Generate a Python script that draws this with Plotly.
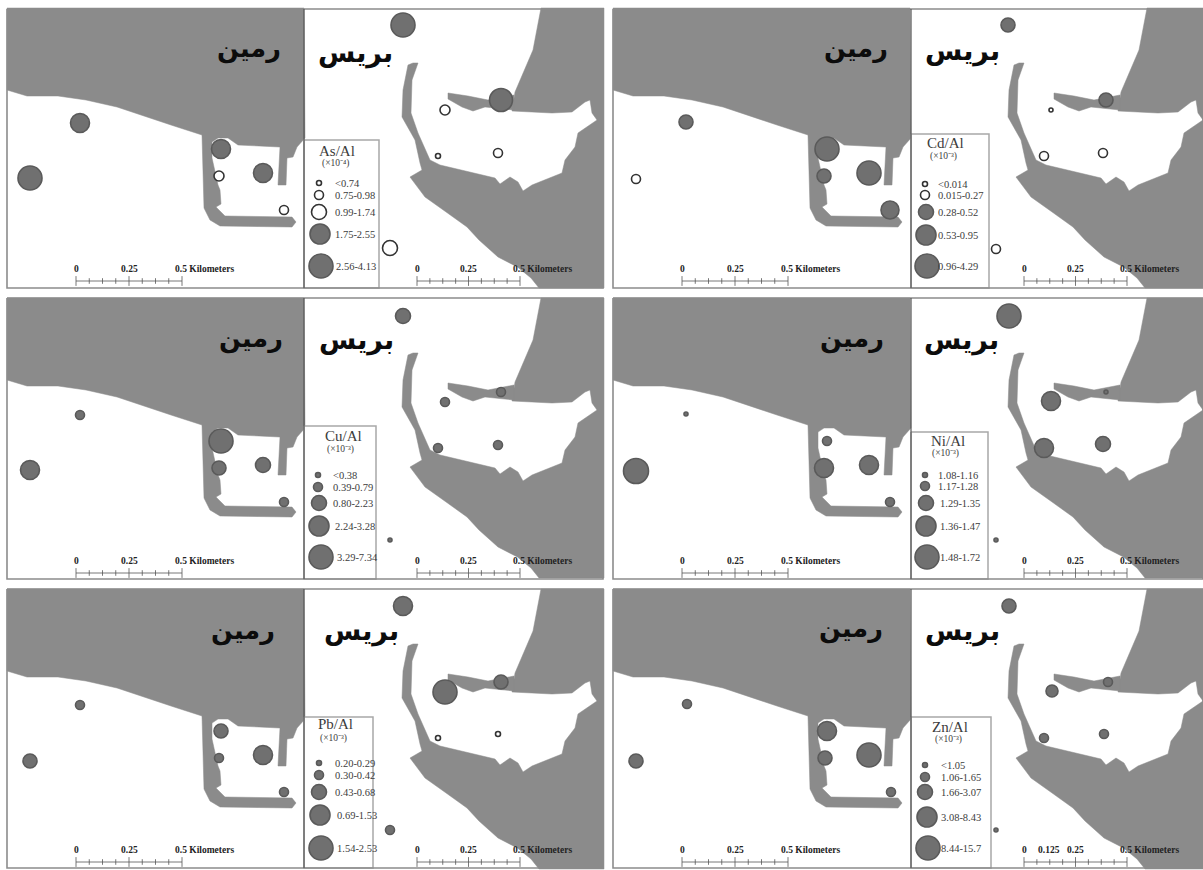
import plotly.graph_objects as go

LAND = "#8b8b8b"
MARK = "#707070"
EDGE = "#5a5a5a"
TXT = "#3c3c3c"

# Outline of the land, in reference-panel units (first panel)
north_x = [7,304,305,297,293,287,286,278,280,238,228,218,212,212,218,220,221,216,225,292,296,292,220,210,204,203,202,171,148,117,86,58,27,7]
north_y = [8,8,138,147,157,158,185,185,147,145,138,138,142,158,185,190,204,207,216,217,222,227,226,220,208,150,135,125,117,107,100,96,96,90]
east_x = [410,425,447.5,467,479,498,517.5,531,539,604,604,541,533,515,512,552,572,585,590,592,597,578,575,565,562,532,523,518,510,500,495,462,440,430,418,411,412,418,413,408,403,402,415,420,422]
east_y = [177,197,213,227,240,257,267,278,288,288,8,8,50,92,111,113,112,102,100,113,120,133,147,160,173,185,191,182,177,184,178,170,165,160,133,113,80,63,63,65,90,117,140,163,170]
spit_x = [448,468,488,514,514,485,473,462,448]
spit_y = [93,96,100,95,110,107,111,107,99]

panel_dx = [0,606,0,606,0,606]
panel_dy = [0,0,290,290,581,581]

# Panel rectangles
frame_x0 = [7,613,7,613,7,613]
frame_x1 = [603,1203,603,1203,603,1203]
frame_y0 = [9,9,298,298,589,589]
frame_y1 = [288,288,579,579,868,868]
divider_x = [304,911,304,911,304,911]

# Stations
st_x = [
 [80,30,221,219,263,284,403,501,445,438,498,390],
 [686,636,827,824,869,890,1008,1106,1051,1044,1103,996],
 [80,30,221,219,263,284,403,501,445,438,498,390],
 [686,636,827,824,869,890,1009,1106,1051,1044,1103,996],
 [80,30,221,219,263,284,403,501,445,438,498,390],
 [687,636,827,825,869,891,1009,1108,1052,1044,1104,996],
]
st_y = [
 [123,178,149,176,173,210,25,100,110,156,153,248],
 [122,179,149,176,173,210,25,100,110,156,153,249],
 [415,470,441,468,465,502,316,392,402,448,445,540],
 [414,471,441,468,465,502,316,392,401,448,444,540],
 [705,761,731,758,755,792,606,682,692,738,734,830],
 [704,761,731,758,755,792,606,682,691,738,734,830],
]
st_d = [
 [19,24,19,10,19,9,24,23,10,5,9,15],
 [14,9,24,14,24,18,14,14,4,9,9,9],
 [9,19,24,14,15,9,15,9,9,9,9,4],
 [4,25,9,19,19,9,24,4,19,19,15,4],
 [9,14,14,9,19,9,19,14,24,5,5,9],
 [9,14,19,14,24,9,14,9,12,9,9,4],
]
st_open = [
 [0,0,0,1,0,1,0,0,1,1,1,1],
 [0,1,0,0,0,0,0,0,1,1,1,1],
 [0]*12, [0]*12, [0,0,0,0,0,0,0,0,0,1,1,0], [0]*12,
]

# Legends
metal = ["As/Al","Cd/Al","Cu/Al","Ni/Al","Pb/Al","Zn/Al"]
unit = ["(×10⁻⁴)","(×10⁻³)","(×10⁻³)","(×10⁻³)","(×10⁻³)","(×10⁻³)"]
title_x = [337,945,343,948,335,950]
title_y = [151,143,436,441,724,727]
unit_x = [336,943,340,945,333,948]
unit_y = [163,156,449,453,738,739]
box_x0 = [304,911,304,911,304,911]
box_x1 = [379,989,376,988,373,991]
box_y0 = [140,134,426,432,717,717]
box_y1 = [288,288,579,579,868,868]
leg_labels = [
 ["<0.74","0.75-0.98","0.99-1.74","1.75-2.55","2.56-4.13"],
 ["<0.014","0.015-0.27","0.28-0.52","0.53-0.95","0.96-4.29"],
 ["<0.38","0.39-0.79","0.80-2.23","2.24-3.28","3.29-7.34"],
 ["1.08-1.16","1.17-1.28","1.29-1.35","1.36-1.47","1.48-1.72"],
 ["0.20-0.29","0.30-0.42","0.43-0.68","0.69-1.53","1.54-2.53"],
 ["<1.05","1.06-1.65","1.66-3.07","3.08-8.43","8.44-15.7"],
]
leg_x = [
 [319,319,319,320,321],[925,925,926,926,927],[318,318,319,319,321],
 [925,925,926,926,927],[319,319,319,320,321],[925,925,925,927,928],
]
leg_y = [
 [183,195,212,234,266],[184,195,212,235,266],[475,487,503,526,557],
 [475,486,503,526,557],[763,775,792,815,848],[765,777,792,817,848],
]
leg_d = [5,9,15,20,24]
leg_open = [[1,1,1,0,0],[1,1,0,0,0],[0]*5,[0]*5,[0]*5,[0]*5]
leg_text_x = [
 [335,335,335,335,336],[938,938,938,938,938],[333,333,333,335,337],
 [938,938,940,940,940],[335,335,335,337,337],[941,941,941,941,941],
]

# Scale bars
bar_left = [76,682,76,682,76,682]
bar_right = [417,1024,417,1024,417,1024]
bar_y = [281,281,573,573,862,862]
scale_labels = ["0","0.25","0.5 Kilometers"]

# Place names
land_name = "رمین"
sea_name = "بریس"
land_name_x = [249,856,251,852,243,851]
land_name_y = [48,48,338,338,630,628]
sea_name_x = [355,962,356,961,361,962]
sea_name_y = [53,51,340,340,631,631]

fig = go.Figure()

def poly(x, y, dx, dy, fill, line=None, width=0):
    fig.add_trace(go.Scatter(
        x=[v + dx for v in x] + [x[0] + dx], y=[v + dy for v in y] + [y[0] + dy],
        mode="lines", fill="toself", fillcolor=fill,
        line=dict(color=line or fill, width=width or 0.5),
        hoverinfo="skip", showlegend=False))

def label(x, y, text, size, color=TXT, family="Liberation Serif", anchor="left", bold=False):
    t = f"<b>{text}</b>" if bold else text
    fig.add_annotation(x=x, y=y, text=t, showarrow=False, xanchor=anchor, yanchor="middle",
                       font=dict(size=size, color=color, family=family), xref="x", yref="y",
                       borderpad=0, borderwidth=0)

def circles(x, y, d, op):
    fig.add_trace(go.Scatter(
        x=x, y=y, mode="markers",
        marker=dict(size=d, opacity=1, color=["white" if o else MARK for o in op],
                    line=dict(color=[("#333333" if o else EDGE) for o in op], width=1.6)),
        hoverinfo="skip", showlegend=False))

for i in range(6):
    dx, dy = panel_dx[i], panel_dy[i]
    poly(north_x, north_y, dx, dy, LAND)
    poly(east_x, east_y, dx, dy, LAND)
    poly(spit_x, spit_y, dx, dy, LAND)
    # legend box
    poly([box_x0[i], box_x1[i], box_x1[i], box_x0[i]],
         [box_y0[i], box_y0[i], box_y1[i], box_y1[i]], 0, 0, "white", "#a8a8a8", 1.5)
    # frame
    fig.add_trace(go.Scatter(
        x=[frame_x0[i], frame_x1[i], frame_x1[i], frame_x0[i], frame_x0[i]],
        y=[frame_y0[i], frame_y0[i], frame_y1[i], frame_y1[i], frame_y0[i]],
        mode="lines", line=dict(color="#8c8c8c", width=1.6), hoverinfo="skip", showlegend=False))
    fig.add_trace(go.Scatter(
        x=[divider_x[i], divider_x[i]], y=[frame_y0[i], frame_y1[i]],
        mode="lines", line=dict(color="#555555", width=1.2), hoverinfo="skip", showlegend=False))
    circles(st_x[i], st_y[i], st_d[i], st_open[i])
    circles(leg_x[i], leg_y[i], leg_d, leg_open[i])
    label(title_x[i], title_y[i], metal[i], 15, anchor="center")
    label(unit_x[i], unit_y[i], unit[i], 9.5, anchor="center")
    for x, y, t in zip(leg_text_x[i], leg_y[i], leg_labels[i]):
        label(x, y, t, 10.5)
    # scale bars
    for b, w in ((bar_left[i], 106), (bar_right[i], 103)):
        n = 8
        xs = [b + w * k / n for k in range(n + 1)]
        fig.add_trace(go.Scatter(
            x=xs, y=[bar_y[i]] * (n + 1), mode="lines+markers",
            line=dict(color="#555555", width=0.8),
            marker=dict(symbol="line-ns", opacity=1, size=[7 if k % 4 == 0 else 4 for k in range(n + 1)],
                        line=dict(color="#555555", width=0.8)),
            hoverinfo="skip", showlegend=False))
        ly = bar_y[i] - 12
        label(b, ly, scale_labels[0], 9.5, color="#222222", anchor="center", bold=True)
        if i == 5 and b == bar_right[5]:
            label(b + 25, ly, "0.125", 9.5, color="#222222", anchor="center", bold=True)
        label(b + w / 2, ly, scale_labels[1], 9.5, color="#222222", anchor="center", bold=True)
        label(b + w - 7, ly, scale_labels[2], 9.5, color="#222222", anchor="left", bold=True)
    label(land_name_x[i], land_name_y[i], land_name, 25.5, color="#0c0c0c", family="DejaVu Sans", anchor="center", bold=True)
    label(sea_name_x[i], sea_name_y[i], sea_name, 27, color="#0c0c0c", family="DejaVu Sans", anchor="center", bold=True)

fig.update_layout(
    width=1203, height=870, margin=dict(l=0, r=0, t=0, b=0),
    paper_bgcolor="white", plot_bgcolor="white", showlegend=False,
    xaxis=dict(range=[0, 1203], visible=False, fixedrange=True),
    yaxis=dict(range=[870, 0], visible=False, fixedrange=True),
)
fig.write_html("out.html", config=dict(displayModeBar=False),
               post_script="document.body.style.margin='0';document.body.style.overflow='hidden';")
